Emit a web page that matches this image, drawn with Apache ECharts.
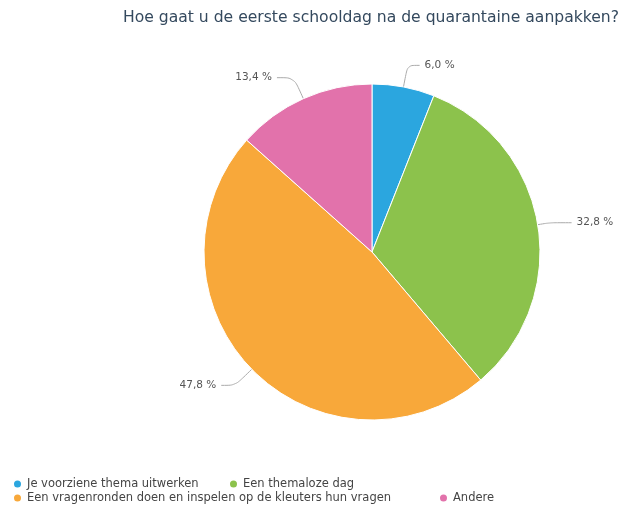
<!DOCTYPE html>
<html>
<head>
<meta charset="utf-8">
<script src="https://cdn.jsdelivr.net/npm/echarts@6/dist/echarts.min.js"></script>
<style>
	html,body{margin:0;padding:0;background:#fff;}
	#chart{width:625px;height:506px;}
</style>
</head>
<body>
<div id="chart"></div>
<script>
	//数据
	var categories=['Je voorziene thema uitwerken','Een themaloze dag','Een vragenronden doen en inspelen op de kleuters hun vragen','Andere'];
	var values=[6.0,32.8,47.8,13.4];
	var colors=['#2ba6df','#8cc24c','#f8a83a','#e272ab'];
	//每个标签引导线长度
	var lineLen=[[22,12],[12,22],[23,14],[23,17]];

	var chart=echarts.init(document.getElementById('chart'));

	var pieData=categories.map(function(name,i){
		return {
			name:name,
			value:values[i],
			itemStyle:{color:colors[i]},
			labelLine:{length:lineLen[i][0],length2:lineLen[i][1]}
		};
	});

	//图例 各自定位
	var legendPos=[[12,478],[228,478],[12,492],[438,492]];
	var legends=categories.map(function(name,i){
		return {
			data:[name],
			left:legendPos[i][0],
			top:legendPos[i][1],
			icon:'circle',
			itemWidth:9,
			itemHeight:9,
			itemGap:0,
			padding:0,
			textStyle:{fontSize:11.5,color:'#444',fontFamily:'DejaVu Sans'}
		};
	});

	var option={
		animation:false,
		title:{
			text:'Hoe gaat u de eerste schooldag na de quarantaine aanpakken?',
			right:1,
			top:5,
			textStyle:{fontSize:15.6,fontWeight:'normal',color:'#34495e',fontFamily:'DejaVu Sans'}
		},
		legend:legends,
		series:[{
			type:'pie',
			center:[372,252],
			radius:168,
			startAngle:90,
			clockwise:true,
			data:pieData,
			itemStyle:{borderColor:'#fff',borderWidth:1},
			label:{
				formatter:function(p){return p.value.toFixed(1).replace('.',',')+' %';},
				fontSize:10.5,
				color:'#555',
				fontFamily:'DejaVu Sans'
			},
			labelLine:{lineStyle:{color:'#aaa',width:1},smooth:true}
		}]
	};
	chart.setOption(option);
</script>
</body>
</html>
